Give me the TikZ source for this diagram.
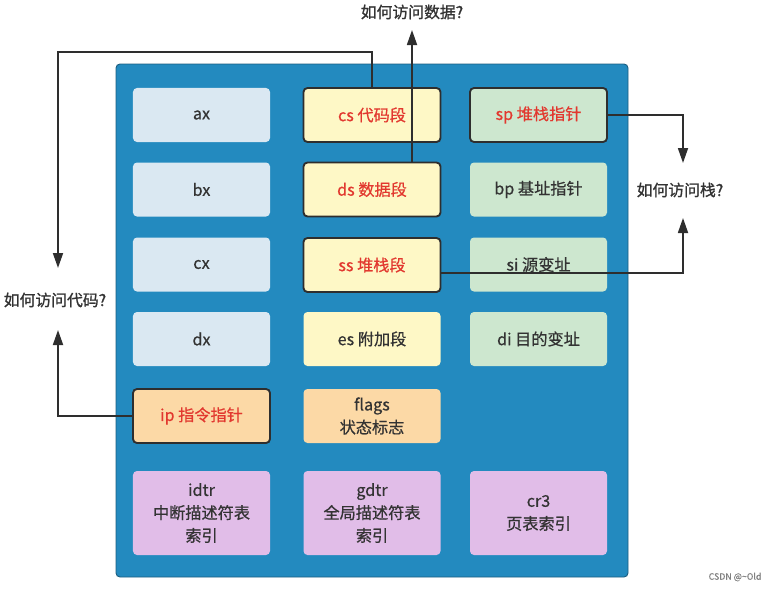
\documentclass[tikz,border=0pt]{standalone}
\usepackage{fontspec}
\setmainfont[FakeBold=0.5]{Noto Sans CJK SC}
\newfontfamily\boxfont[FakeBold=0.6]{Noto Sans CJK SC}
\newfontfamily\lblfont[FakeBold=1.2]{Noto Sans CJK SC}
\usetikzlibrary{arrows.meta,calc}
\definecolor{panel}{HTML}{238ABF}
\definecolor{panelb}{HTML}{1C5E80}
\definecolor{lblue}{HTML}{DAE8F2}
\definecolor{lyellow}{HTML}{FEF8C6}
\definecolor{lgreen}{HTML}{CDE7CF}
\definecolor{lorange}{HTML}{FCD9A6}
\definecolor{lpurple}{HTML}{E1BDE8}
\definecolor{txt}{HTML}{333333}
\definecolor{redt}{HTML}{E2382F}
\definecolor{edge}{HTML}{2E2E2E}
\begin{document}
\begin{tikzpicture}[x=0.03cm,y=-0.03cm,
  reg/.style={rounded corners=0.12cm, minimum width=4.11cm, minimum height=1.62cm,
    inner sep=0pt, align=center, text=txt, font=\boxfont\fontsize{13.8}{19.5}\selectfont},
  hot/.style={reg, draw=edge, line width=1.6pt, text=redt},
  big/.style={minimum height=2.52cm},
  conn/.style={draw=edge, line width=1.5pt},
  arr/.style={conn, -{Triangle[length=0.45cm,width=0.3cm]}},
  lbl/.style={text=txt, font=\lblfont\fontsize{13.5}{16}\selectfont, inner sep=0pt}]
\useasboundingbox (0,0) rectangle (779,589);
\fill[panel, draw=panelb, line width=0.8pt, rounded corners=0.12cm] (116,64) rectangle (628,577);
% column 1
\node[reg, fill=lblue] (ax) at (201.5,115) {ax};
\node[reg, fill=lblue] (bx) at (201.5,189.5) {bx};
\node[reg, fill=lblue] (cx) at (201.5,264.5) {cx};
\node[reg, fill=lblue] (dx) at (201.5,339) {dx};
\node[hot, fill=lorange] (ip) at (201.5,416) {ip 指令指针};
\node[reg, big, fill=lpurple] (idtr) at (201.5,513) {idtr\\中断描述符表\\索引};
% column 2
\node[hot, fill=lyellow] (cs) at (372,115) {cs 代码段};
\node[hot, fill=lyellow] (ds) at (372,189.5) {ds 数据段};
\node[hot, fill=lyellow] (ss) at (372,265) {ss 堆栈段};
\node[reg, fill=lyellow] (es) at (372,339) {es 附加段};
\node[reg, fill=lorange] (flags) at (372,416) {flags\\状态标志};
\node[reg, big, fill=lpurple] (gdtr) at (372,513) {gdtr\\全局描述符表\\索引};
% column 3
\node[hot, fill=lgreen] (sp) at (538.5,115) {sp 堆栈指针};
\node[reg, fill=lgreen] (bp) at (538.5,189.5) {bp 基址指针};
\node[reg, fill=lgreen] (si) at (538.5,264.5) {si 源变址};
\node[reg, fill=lgreen] (di) at (538.5,339) {di 目的变址};
\node[reg, big, fill=lpurple] (cr3) at (538.5,513) {cr3\\页表索引};
% labels
\node[lbl] (qcode) at (55,300) {如何访问代码?};
\node[lbl] (qdata) at (412,12) {如何访问数据?};
\node[lbl] (qstack) at (680,190) {如何访问栈?};
% coordinates
\coordinate (t1) at (58,52);
\coordinate (a1) at (58,268);
\coordinate (a2) at (58,330);
\coordinate (a3) at (412,30);
\coordinate (a4) at (683,163);
\coordinate (a5) at (683,218);
% connectors
\draw[arr] (cs.north) |- (t1) -- (a1);
\draw[arr] (ip.west) -| (a2);
\draw[arr] ($(ds.north)+(40,0)$) -- (a3);
\draw[arr] (sp.east) -| (a4);
\draw[arr] ($(ss.east)+(0,8)$) -| (a5);
% watermark
\node[text=gray, font=\fontsize{7.5}{9}\selectfont, inner sep=0pt] (wm) at (735,577) {CSDN @\textasciitilde Old};
\end{tikzpicture}
\end{document}
